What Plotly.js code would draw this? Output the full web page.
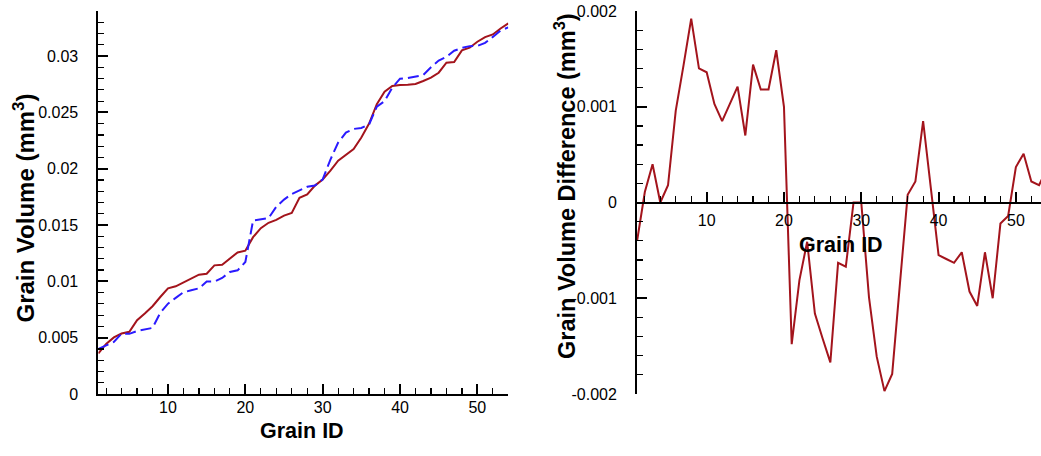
<!DOCTYPE html>
<html>
<head>
<meta charset="utf-8">
<script src="https://cdn.plot.ly/plotly-3.0.1.min.js"></script>
<style>html,body{margin:0;padding:0;background:#fff;}#chart{width:1041px;height:456px;}</style>
</head>
<body>
<div id="chart"></div>
<script>
const grainId = [1,2,3,4,5,6,7,8,9,10,11,12,13,14,15,16,17,18,19,20,21,22,23,24,25,26,27,28,29,30,31,32,33,34,35,36,37,38,39,40,41,42,43,44,45,46,47,48,49,50,51,52,53,54];
const volumeRed = [0.00360,0.00445,0.00502,0.00537,0.00552,0.00655,0.00714,0.00779,0.00861,0.00938,
  0.00956,0.00988,0.01024,0.01059,0.01068,0.01142,0.01148,0.01201,0.01257,0.01272,
  0.01392,0.01472,0.01520,0.01546,0.01584,0.01608,0.01741,0.01772,0.01850,0.01905,
  0.01982,0.02071,0.02124,0.02174,0.02277,0.02401,0.02573,0.02684,0.02735,0.02744,
  0.02746,0.02752,0.02779,0.02808,0.02852,0.02941,0.02947,0.03050,0.03074,0.03127,
  0.03168,0.03192,0.03245,0.03290];
const volumeBlue = [0.00400,0.00434,0.00462,0.00537,0.00534,0.00559,0.00571,0.00587,0.00721,0.00802,
  0.00853,0.00903,0.00921,0.00938,0.00998,0.00998,0.01030,0.01083,0.01098,0.01172,
  0.01540,0.01553,0.01561,0.01662,0.01726,0.01775,0.01804,0.01839,0.01850,0.01905,
  0.02081,0.02232,0.02321,0.02353,0.02362,0.02393,0.02551,0.02599,0.02720,0.02799,
  0.02805,0.02815,0.02831,0.02901,0.02960,0.02993,0.03047,0.03072,0.03088,0.03090,
  0.03117,0.03170,0.03227,0.03255];
const volumeDiff = [-0.00040,0.00011,0.00040,0.00000,0.00018,0.00096,0.00143,0.00192,0.00140,0.00136,
  0.00103,0.00085,0.00103,0.00121,0.00070,0.00144,0.00118,0.00118,0.00159,0.00100,
  -0.00148,-0.00081,-0.00041,-0.00116,-0.00142,-0.00167,-0.00063,-0.00067,0.00000,0.00000,
  -0.00099,-0.00161,-0.00197,-0.00179,-0.00085,0.00008,0.00022,0.00085,0.00015,-0.00055,
  -0.00059,-0.00063,-0.00052,-0.00093,-0.00108,-0.00052,-0.00100,-0.00022,-0.00014,0.00037,
  0.00051,0.00022,0.00018,0.00035];
const diffTickVals = [-0.002,-0.001,0,0.001,0.002];
const diffTickText = ['-0.002','-0.001','0','0.001','0.002'];

const RED = '#A3141C';
const BLUE = '#2A1AFF';
const FONT = 'Liberation Sans, Arial, Helvetica, sans-serif';
const tickFont = {family: FONT, size: 16, color: '#000'};

const traces = [
  {x: grainId, y: volumeRed, xaxis: 'x', yaxis: 'y', mode: 'lines', line: {color: RED, width: 2}, hoverinfo: 'x+y'},
  {x: grainId, y: volumeBlue, xaxis: 'x', yaxis: 'y', mode: 'lines', line: {color: BLUE, width: 2, dash: '11px,5px'}, hoverinfo: 'x+y'},
  {x: grainId, y: volumeDiff, xaxis: 'x2', yaxis: 'y2', mode: 'lines', line: {color: RED, width: 2}, hoverinfo: 'x+y'}
];

const yDom = [62/456, 445/456];
const common = {showgrid: false, zeroline: false, showline: true, linecolor: '#000', linewidth: 2,
  ticks: 'inside', ticklen: 10, tickwidth: 2, tickcolor: '#000', tickfont: tickFont, automargin: false};

const layout = {
  width: 1041, height: 456,
  margin: {l: 0, r: 0, t: 0, b: 0, pad: 0},
  paper_bgcolor: '#fff', plot_bgcolor: 'rgba(0,0,0,0)',
  showlegend: false,
  xaxis: Object.assign({}, common, {domain: [98.4/1041, 508.3/1041], range: [1, 54], anchor: 'y',
    tick0: 0, dtick: 10, ticklabelstandoff: -2,
    minor: {tick0: 0, dtick: 2, ticks: 'inside', ticklen: 6, tickwidth: 1.2, tickcolor: '#000'}}),
  yaxis: Object.assign({}, common, {domain: yDom, range: [0, 0.034], anchor: 'x',
    tick0: 0, dtick: 0.005, ticklabelstandoff: 15,
    minor: {tick0: 0, dtick: 0.001, ticks: 'inside', ticklen: 6, tickwidth: 1.2, tickcolor: '#000'}}),
  xaxis2: Object.assign({}, common, {domain: [637.1/1041, 1], range: [1, 53.25], anchor: 'free',
    position: (456-202.5)/456, tick0: 0, dtick: 10, ticklabelstandoff: 3,
    minor: {tick0: 0, dtick: 2, ticks: 'inside', ticklen: 6, tickwidth: 1.2, tickcolor: '#000'}}),
  yaxis2: Object.assign({}, common, {domain: yDom, range: [-0.002, 0.002], anchor: 'x2',
    tickmode: 'array', tickvals: diffTickVals, ticktext: diffTickText, ticklabelstandoff: 15,
    minor: {tickmode: 'linear', tick0: 0, dtick: 0.0002, ticks: 'inside', ticklen: 6, tickwidth: 1.2, tickcolor: '#000'}}),
  annotations: [
    {text: 'Grain Volume (mm<sup>3</sup>)', xref: 'paper', yref: 'paper', x: 23.5/1041, y: 1-208/456,
     textangle: -90, showarrow: false, xanchor: 'center', yanchor: 'middle',
     font: {family: FONT, size: 24, color: '#000', weight: 700}},
    {text: 'Grain ID', xref: 'paper', yref: 'paper', x: 302/1041, y: 1-431/456,
     showarrow: false, xanchor: 'center', yanchor: 'middle',
     font: {family: FONT, size: 21.5, color: '#000', weight: 700}},
    {text: 'Grain Volume Difference (mm<sup>3</sup>)', xref: 'paper', yref: 'paper', x: 565/1041, y: 1-186/456,
     textangle: -90, showarrow: false, xanchor: 'center', yanchor: 'middle',
     font: {family: FONT, size: 23.5, color: '#000', weight: 700}},
    {text: 'Grain ID', xref: 'paper', yref: 'paper', x: 841.3/1041, y: 1-245/456,
     showarrow: false, xanchor: 'center', yanchor: 'middle',
     font: {family: FONT, size: 21.5, color: '#000', weight: 700}}
  ]
};

Plotly.newPlot('chart', traces, layout, {displayModeBar: false, staticPlot: true});
</script>
</body>
</html>
